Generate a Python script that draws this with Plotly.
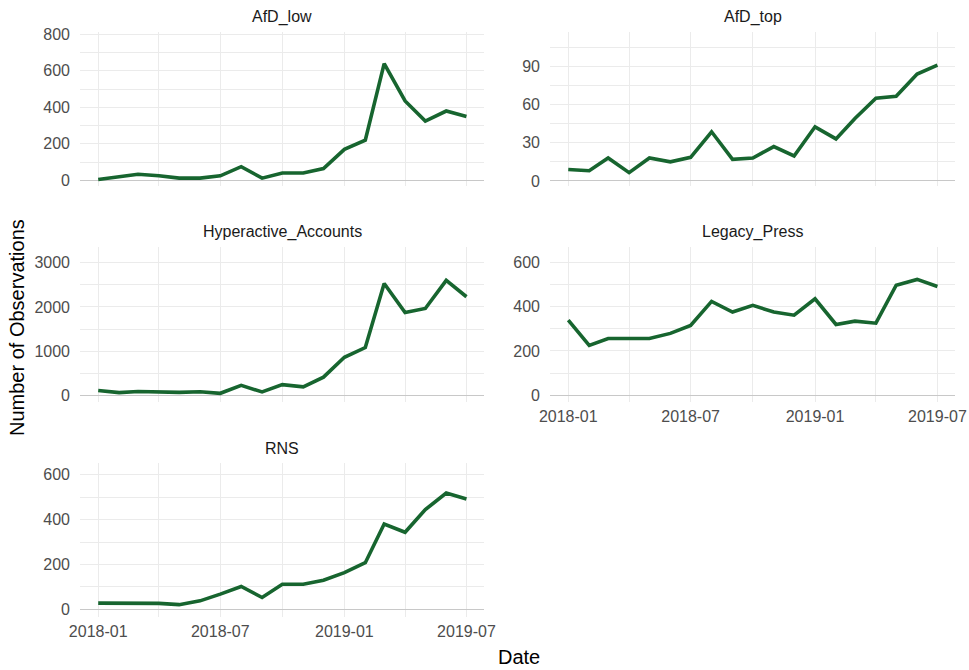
import plotly.graph_objects as go

months = ["2018-01-01", "2018-02-01", "2018-03-01", "2018-04-01", "2018-05-01", "2018-06-01",
          "2018-07-01", "2018-08-01", "2018-09-01", "2018-10-01", "2018-11-01", "2018-12-01",
          "2019-01-01", "2019-02-01", "2019-03-01", "2019-04-01", "2019-05-01", "2019-06-01",
          "2019-07-01"]

afd_low = [5, 18, 33, 25, 12, 12, 25, 75, 12, 40, 40, 65, 170, 220, 640, 435, 325, 380, 350]
afd_top = [9, 8, 18, 6.5, 18, 15, 18.5, 38.6, 17, 18, 27, 19.6, 42.5, 33, 49, 65, 66.5, 84, 91]
hyperactive = [110, 60, 85, 65, 65, 80, 45, 225, 75, 240, 190, 410, 860, 1080, 2530, 1875, 1965, 2600, 2230]
legacy_press = [339, 225, 256, 256, 256, 279, 315, 423, 375, 405, 375, 361, 435, 319, 334, 325, 496, 522, 490]
rns = [28, 28, 28, 27, 21, 38, 68, 102, 53, 112, 112, 130, 164, 208, 381, 344, 445, 519, 492]

panel_names = ["AfD_low", "AfD_top", "Hyperactive_Accounts", "Legacy_Press", "RNS"]
panel_values = [afd_low, afd_top, hyperactive, legacy_press, rns]
y_ranges = [[-31, 813], [-4, 117], [-152, 3356], [-30, 668], [-34, 653]]
y_dticks = [200, 30, 1000, 200, 200]
show_x_labels = [False, False, False, True, True]

W, H = 969, 670
LINE_COLOR = "#17652f"
GRID = "#ebebeb"
FONT = "Liberation Sans, Arial, sans-serif"

# pixel boxes (x0, x1, ytop, ybottom)
col_x = [(80, 484), (550, 955)]
row_y = [(32, 186), (247, 402), (463, 617)]

fig = go.Figure()
layout = dict()
annotations = []
for i, (name, vals) in enumerate(zip(panel_names, panel_values)):
    r, c = divmod(i, 2)
    x0, x1 = col_x[c]
    yt, yb = row_y[r]
    xa = "xaxis" if i == 0 else f"xaxis{i+1}"
    ya = "yaxis" if i == 0 else f"yaxis{i+1}"
    xref = "x" if i == 0 else f"x{i+1}"
    yref = "y" if i == 0 else f"y{i+1}"
    fig.add_trace(go.Scatter(x=months, y=vals, mode="lines",
                             line=dict(color=LINE_COLOR, width=3.6),
                             xaxis=xref, yaxis=yref, showlegend=False,
                             hoverinfo="x+y"))
    layout[xa] = dict(
        domain=[x0 / W, x1 / W], anchor=yref, type="date",
        range=["2017-12-05", "2019-07-27"],
        tick0="2018-01-01", dtick="M6", tickformat="%Y-%m",
        showgrid=True, gridcolor=GRID, gridwidth=1,
        minor=dict(dtick="M3", tick0="2018-01-01", showgrid=True, gridcolor=GRID, gridwidth=0.8),
        showticklabels=show_x_labels[i], ticks="", showline=False, zeroline=False,
        tickfont=dict(family=FONT, size=16, color="#4d4d4d"),
        ticklabelstandoff=3,
    )
    layout[ya] = dict(
        domain=[1 - yb / H, 1 - yt / H], anchor=xref,
        range=y_ranges[i], tick0=0, dtick=y_dticks[i],
        showgrid=True, gridcolor=GRID, gridwidth=1,
        minor=dict(dtick=y_dticks[i] / 2, tick0=0, showgrid=True, gridcolor=GRID, gridwidth=0.8),
        zeroline=True, zerolinecolor="#c8c8c8", zerolinewidth=1.4,
        ticks="", showline=False,
        tickfont=dict(family=FONT, size=16, color="#4d4d4d"),
        ticklabelstandoff=9,
    )
    annotations.append(dict(
        text=name, x=(x0 + x1) / 2 / W, y=1 - (yt - 15) / H, xref="paper", yref="paper",
        xanchor="center", yanchor="middle", showarrow=False,
        font=dict(family=FONT, size=16, color="#1a1a1a")))

annotations.append(dict(
    text="Number of Observations", x=17 / W, y=1 - 328 / H, xref="paper", yref="paper",
    xanchor="center", yanchor="middle", showarrow=False, textangle=-90,
    font=dict(family=FONT, size=20, color="#000000")))
annotations.append(dict(
    text="Date", x=519 / W, y=1 - 657 / H, xref="paper", yref="paper",
    xanchor="center", yanchor="middle", showarrow=False,
    font=dict(family=FONT, size=20, color="#000000")))

fig.update_layout(
    width=W, height=H,
    margin=dict(l=0, r=0, t=0, b=0, autoexpand=False),
    paper_bgcolor="white", plot_bgcolor="white",
    annotations=annotations,
    **layout,
)

fig.write_html("out.html")
